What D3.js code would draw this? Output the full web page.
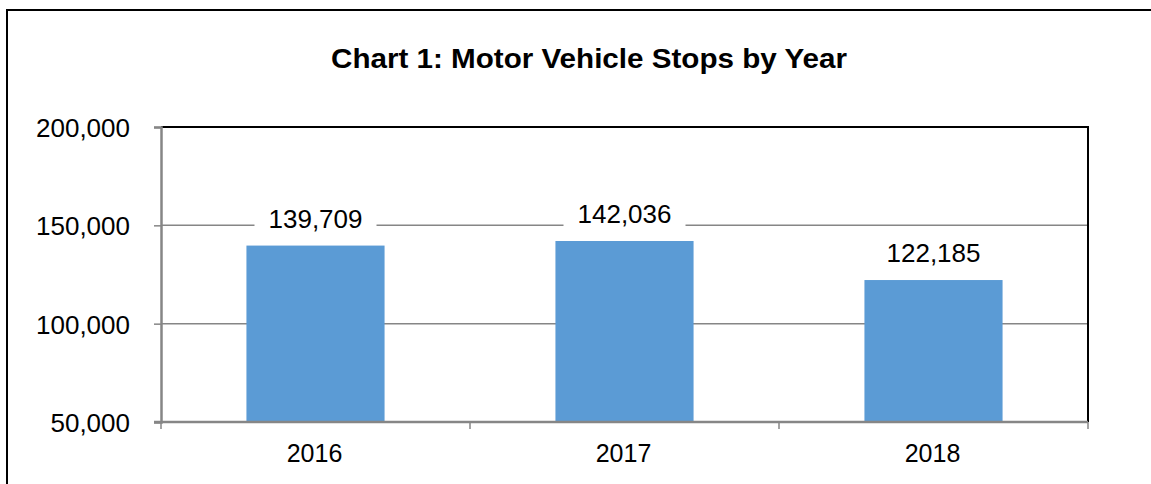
<!DOCTYPE html>
<html>
<head>
<meta charset="utf-8">
<script src="https://cdn.jsdelivr.net/npm/d3@7"></script>
<style>
  body { margin: 0; background: #fff; }
  text { font-family: Arial, "Liberation Sans", sans-serif; fill: #000; }
</style>
</head>
<body>
<div id="chart"></div>
<script>
const years = ['2016', '2017', '2018'];
const stops = [139709, 142036, 122185];
const yTicks = [50000, 100000, 150000, 200000];

const W = 1151, H = 484;
const plot = { left: 161, top: 127, right: 1088, bottom: 422 };

const svg = d3.select('#chart')
  .append('svg')
  .attr('width', W)
  .attr('height', H);

// outer frame
svg.append('rect')
  .attr('x', 7).attr('y', 10)
  .attr('width', 1160).attr('height', 500)
  .attr('fill', 'none')
  .attr('stroke', '#000')
  .attr('stroke-width', 2);

svg.append('text')
  .attr('x', 589)
  .attr('y', 68)
  .attr('text-anchor', 'middle')
  .attr('textLength', 516)
  .attr('lengthAdjust', 'spacingAndGlyphs')
  .style('font-weight', 'bold')
  .style('font-size', '27px')
  .text('Chart 1: Motor Vehicle Stops by Year');

const x = d3.scaleBand()
  .domain(years)
  .range([plot.left, plot.right])
  .paddingInner(0.553)
  .paddingOuter(0.2765);

const y = d3.scaleLinear()
  .domain([50000, 200000])
  .range([plot.bottom, plot.top]);

// gridlines
svg.append('g')
  .selectAll('line')
  .data(yTicks.slice(1, 3))
  .join('line')
  .attr('x1', plot.left).attr('x2', plot.right)
  .attr('y1', d => y(d)).attr('y2', d => y(d))
  .attr('stroke', '#868686')
  .attr('stroke-width', 1.5);

// top & right border
svg.append('path')
  .attr('d', `M${plot.left},${plot.top}H${plot.right}V${plot.bottom}`)
  .attr('fill', 'none')
  .attr('stroke', '#000')
  .attr('stroke-width', 2);

// bars
svg.append('g')
  .selectAll('rect')
  .data(stops)
  .join('rect')
  .attr('x', (d, i) => x(years[i]))
  .attr('width', x.bandwidth())
  .attr('y', d => y(d))
  .attr('height', d => y(50000) - y(d))
  .attr('fill', '#5b9bd5');

// y axis
const yAxis = svg.append('g')
  .attr('transform', `translate(${plot.left},0)`)
  .call(d3.axisLeft(y).tickValues(yTicks).tickSize(7).tickPadding(24).tickFormat(d3.format(',')));
yAxis.select('.domain').attr('stroke', '#868686').attr('stroke-width', 2.5);
yAxis.selectAll('.tick line').attr('stroke', '#868686').attr('stroke-width', 1.5);
yAxis.selectAll('.tick text').style('font-size', '26px').attr('dy', '0.36em');

// x axis with ticks between categories
const xAxis = svg.append('g')
  .attr('transform', `translate(0,${plot.bottom})`);
xAxis.append('line')
  .attr('x1', plot.left - 7).attr('x2', plot.right)
  .attr('stroke', '#868686').attr('stroke-width', 2.5);
const bounds = [plot.left, ...years.slice(1).map(d => x(d) - x.step() * x.paddingInner() / 2), plot.right];
xAxis.selectAll('.sep')
  .data(bounds)
  .join('line')
  .attr('class', 'sep')
  .attr('x1', d => d).attr('x2', d => d)
  .attr('y1', 0).attr('y2', 7)
  .attr('stroke', '#868686').attr('stroke-width', 1.5);
xAxis.selectAll('.lbl')
  .data(years)
  .join('text')
  .attr('class', 'lbl')
  .attr('x', d => x(d) + x.bandwidth() / 2 - 1)
  .attr('y', 40)
  .attr('text-anchor', 'middle')
  .style('font-size', '25px')
  .text(d => d);

// value labels with white boxes
const fmt = d3.format(',');
const labels = svg.append('g')
  .selectAll('g')
  .data(stops)
  .join('g')
  .attr('transform', (d, i) => `translate(${x(years[i]) + x.bandwidth() / 2},${y(d) - 18})`);
labels.append('rect')
  .attr('x', -61).attr('y', -28)
  .attr('width', 122).attr('height', 36)
  .attr('fill', '#fff');
labels.append('text')
  .attr('text-anchor', 'middle')
  .style('font-size', '26px')
  .text(d => fmt(d));
</script>
</body>
</html>
